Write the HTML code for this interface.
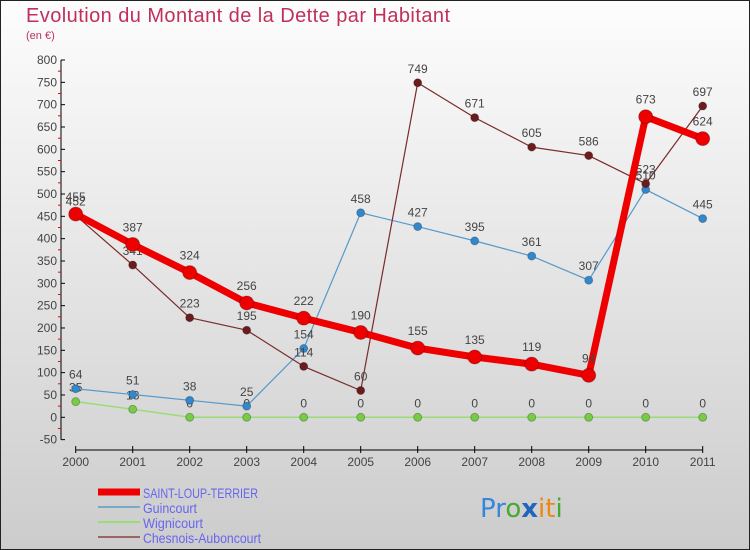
<!DOCTYPE html>
<html><head><meta charset="utf-8"><style>
body{margin:0;}
#wrap{position:relative;width:750px;height:550px;overflow:hidden;font-family:"Liberation Sans",sans-serif;}
svg{position:absolute;left:0;top:0;}
</style></head><body>
<div id="wrap">
<svg id="chart" width="750" height="550">
<defs><linearGradient id="bg" x1="0" y1="0" x2="0" y2="1"><stop offset="0" stop-color="#fdfdfd"/><stop offset="1" stop-color="#cccccc"/></linearGradient></defs>
<rect x="0" y="0" width="750" height="550" fill="url(#bg)" stroke="#222" stroke-width="2"/>
<text x="26" y="22" font-size="20" fill="#c0305a" textLength="424">Evolution du Montant de la Dette par Habitant</text>
<text x="26" y="39" font-size="11" fill="#c0305a">(en €)</text>
<g id="axes"></g><g id="series"></g>
<g>
<line x1="98" y1="492" x2="140" y2="492" stroke="#ee0000" stroke-width="7"/>
<text x="143" y="498" font-size="14" fill="#6666ee" textLength="115" lengthAdjust="spacingAndGlyphs">SAINT-LOUP-TERRIER</text>
<line x1="98" y1="507" x2="140" y2="507" stroke="#7aa8c8" stroke-width="2"/>
<text x="143" y="513" font-size="14" fill="#6666ee" textLength="54" lengthAdjust="spacingAndGlyphs">Guincourt</text>
<line x1="98" y1="522" x2="140" y2="522" stroke="#99dd77" stroke-width="2"/>
<text x="143" y="528" font-size="14" fill="#6666ee" textLength="60" lengthAdjust="spacingAndGlyphs">Wignicourt</text>
<line x1="98" y1="537" x2="140" y2="537" stroke="#996666" stroke-width="2"/>
<text x="143" y="543" font-size="14" fill="#6666ee" textLength="118" lengthAdjust="spacingAndGlyphs">Chesnois-Auboncourt</text>
</g>
<text x="480" y="517" font-size="26" font-family="DejaVu Sans, sans-serif"><tspan fill="#3388dd">Pr</tspan><tspan fill="#44aa33">o</tspan><tspan fill="#2266bb" font-weight="bold">x</tspan><tspan fill="#ee8811">it</tspan><tspan fill="#44aa33">i</tspan></text>
</svg>
</div>
<script>
const years=["2000","2001","2002","2003","2004","2005","2006","2007","2008","2009","2010","2011"];
const yTicks=[-50,0,50,100,150,200,250,300,350,400,450,500,550,600,650,700,750,800];
const saintLoup=[455,387,324,256,222,190,155,135,119,94,673,624];
const guincourt=[64,51,38,25,154,458,427,395,361,307,510,445];
const wignicourt=[35,18,0,0,0,0,0,0,0,0,0,0];
const chesnois=[452,341,223,195,114,60,749,671,605,586,523,697];
const NS="http://www.w3.org/2000/svg";
const xs=i=>75.7+i*57;
const ys=v=>417.3-v*0.4466;
function mk(tag,attrs,parent){const e=document.createElementNS(NS,tag);for(const k in attrs)e.setAttribute(k,attrs[k]);parent.appendChild(e);return e;}
const ax=document.getElementById('axes');
const yl=mk('line',{x1:61,y1:ys(800),x2:61,y2:ys(-50),stroke:'#000'},ax);


const xl=mk('line',{x1:xs(0),y1:450,x2:xs(11),y2:450,stroke:'#000'},ax);


yTicks.forEach((t,i)=>{
  mk('line',{x1:61,y1:ys(t),x2:65,y2:ys(t),stroke:'#000'},ax);
  if(i<yTicks.length-1) mk('line',{x1:58,y1:ys(t+25),x2:61,y2:ys(t+25),stroke:'#e00'},ax);
  const tx=mk('text',{x:57,y:ys(t)+4,'font-size':12,'text-anchor':'end',fill:'#444'},ax);
  tx.textContent=t;
  
  
});
years.forEach((y,i)=>{
  mk('line',{x1:xs(i),y1:446,x2:xs(i),y2:453,stroke:'#000'},ax);
  const tx=mk('text',{x:xs(i),y:466,'font-size':12,'text-anchor':'middle',fill:'#444'},ax);
  tx.textContent=y;
  
  
});
const sg=document.getElementById('series');
function series(data,color,lineColor,w,r,name){
  const g=mk('g',{},sg);
  
  
  mk('polyline',{points:data.map((v,i)=>xs(i)+','+ys(v)).join(' '),fill:'none',stroke:lineColor,'stroke-width':w,'stroke-linejoin':'round'},g);
  data.forEach((v,i)=>{
    const c=mk('circle',{cx:xs(i),cy:ys(v),r:r,fill:color,stroke:'rgba(0,0,0,0.25)'},g);
    
    
    const t=mk('text',{x:xs(i),y:ys(v)-(r+6),'font-size':12,'text-anchor':'middle',fill:'#444'},g);
    t.textContent=v;
    
    
  });
}
series(wignicourt,'#77cc44','#99dd77',1.5,4,'wignicourt-series');
series(guincourt,'#3388cc','#5599cc',1.2,4,'guincourt-series');
series(chesnois,'#6b1c1c','#7a2a2a',1.2,4,'chesnois-series');
series(saintLoup,'#ee0000','#ee0000',7,7,'saint-loup-series');
</script>
</body></html>
